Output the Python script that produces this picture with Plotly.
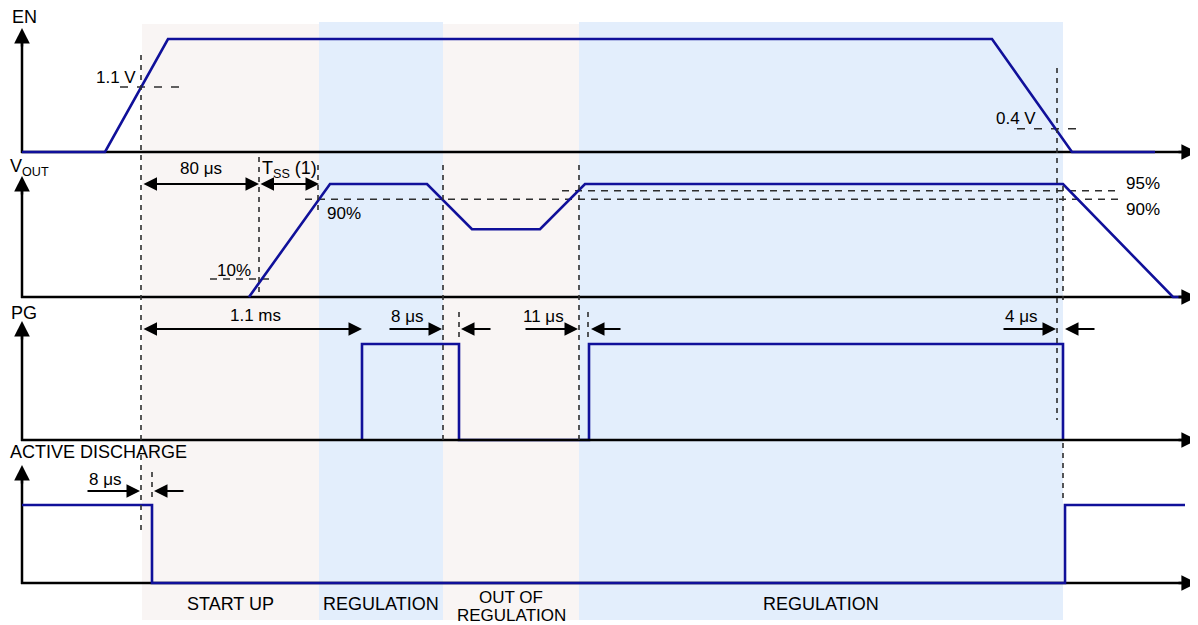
import plotly.graph_objects as go

# page body has an 8px margin: the figure is sized so that it fills the window
OFF = 8
W, H = 1198 - OFF, 625 - OFF

# ---------------- data (common time axis, arbitrary units) ----------------
en_t = [22, 105, 168, 992, 1072, 1155]
en_v = [0, 0, 1, 1, 0, 0]
vout_t = [249, 330, 427, 472, 540, 585, 1063, 1173, 1187]
vout_v = [0, 1, 1, 0.6, 0.6, 1, 1, 0, 0]
pg_t = [362, 362, 459, 459, 589, 589, 1063, 1063]
pg_v = [0, 1, 1, 0, 0, 1, 1, 0]
ad_t = [22, 152, 152, 1065, 1065, 1185]
ad_v = [1, 1, 0, 0, 1, 1]

phase_names = ["START UP", "REGULATION", "OUT OF|REGULATION", "REGULATION"]
phase_start = [142, 319, 443, 579]
phase_end = [319, 443, 579, 1063]
phase_is_reg = [False, True, False, True]

# threshold levels (fraction of full level) and their spans on the time axis
en_thr_text = ["1.1 V", "0.4 V"]
en_thr_level = [0.575, 0.205]
en_thr_t0 = [120, 1017]
en_thr_t1 = [185, 1082]

vout_thr_text = ["10%", "90%", "95%"]
vout_thr_level = [0.16, 0.865, 0.94]
vout_thr_t0 = [210, 305, 562]
vout_thr_t1 = [275, 1122, 1117]

# timing intervals
dim_text = ["80 μs", "T<sub>SS</sub> (1)", "1.1 ms"]
dim_t0 = [142, 259, 142]
dim_t1 = [259, 319, 362]
dim_panel = ["VOUT", "VOUT", "PG"]

delay_text = ["8 μs", "11 μs", "4 μs", "8 μs"]
delay_t0 = [443, 579, 1057, 141]
delay_t1 = [459, 589, 1063, 152]
delay_panel = ["PG", "PG", "PG", "AD"]

signal_names = ["EN", "V<sub>OUT</sub>", "PG", "ACTIVE DISCHARGE"]

# ---------------- layout constants (window pixels) ----------------
BLUE = "#10109a"
PINK_BG = "#f9f5f4"
BLUE_BG = "#e3eefc"
GUIDE = "#2e2e2e"
FONT = "Liberation Sans, Arial, sans-serif"
FS = 18

panels = {
    "EN":   dict(band=(OFF, 160), base=152, high=39, tip=28),
    "VOUT": dict(band=(160, 300), base=297, high=184, tip=176),
    "PG":   dict(band=(300, 444), base=440, high=344, tip=321),
    "AD":   dict(band=(444, 625), base=583, high=505, tip=465),
}


def p(ypx):
    return 1 - (ypx - OFF) / H


fig = go.Figure()

layout_axes = {}
for i, (k, c) in enumerate(panels.items()):
    a, b = c["band"]
    span = c["base"] - c["high"]
    name = "yaxis" if i == 0 else f"yaxis{i+1}"
    layout_axes[name] = dict(
        domain=[max(0, p(b)), min(1, p(a))],
        range=[(c["base"] - b) / span, (c["base"] - a) / span],
        visible=False, fixedrange=True, anchor="x",
    )

shapes = []
annotations = []


def text(x, y, s, size=FS, anchor="center"):
    annotations.append(dict(x=x, y=p(y), xref="x", yref="paper", text=s, showarrow=False,
                            font=dict(size=size, family=FONT, color="black"),
                            xanchor=anchor, yanchor="middle"))


# phase backgrounds
for s, e, reg in zip(phase_start, phase_end, phase_is_reg):
    shapes.append(dict(type="rect", xref="x", yref="paper", x0=s, x1=e,
                       y0=p(620), y1=p(22 if reg else 24),
                       fillcolor=BLUE_BG if reg else PINK_BG,
                       line=dict(width=0), layer="below"))

# phase labels
for s, e, n in zip(phase_start, phase_end, phase_names):
    parts = n.split("|")
    if len(parts) == 1:
        text((s + e) / 2, 604, n)
    else:
        text((s + e) / 2, 597, parts[0], FS - 1)
        text((s + e) / 2, 615, parts[1], FS - 1)

# signal axes (lines + arrowheads)
for k, c in panels.items():
    layer = "above" if k == "PG" else "below"
    shapes.append(dict(type="line", xref="x", yref="paper", x0=22, x1=22,
                       y0=p(c["base"] + 1), y1=p(c["tip"] + 6),
                       line=dict(color="black", width=2.5), layer=layer))
    shapes.append(dict(type="line", xref="x", yref="paper", x0=21, x1=1188,
                       y0=p(c["base"]), y1=p(c["base"]),
                       line=dict(color="black", width=2.5), layer=layer))
    annotations.append(dict(x=22, y=p(c["tip"]), xref="x", yref="paper", text="",
                            showarrow=True, ax=0, ay=20, axref="pixel", ayref="pixel",
                            arrowhead=2, arrowsize=1.3, arrowwidth=2.4, arrowcolor="black"))
    annotations.append(dict(x=1197, y=p(c["base"]), xref="x", yref="paper", text="",
                            showarrow=True, ax=-20, ay=0, axref="pixel", ayref="pixel",
                            arrowhead=2, arrowsize=1.3, arrowwidth=2.4, arrowcolor="black"))

# signal names
name_pos = [(10, 17), (8, 167), (9, 313), (8, 452)]
for n, (x, y) in zip(signal_names, name_pos):
    text(x, y, n, FS, "left")

# vertical guide lines (time, top px, bottom px)
guides = [(141, 55, 530), (259, 157, 293), (318, 165, 210), (443, 165, 440),
          (579, 165, 440), (459, 312, 342), (588, 312, 342), (1057, 68, 420),
          (1063, 186, 300), (1063, 443, 503), (152, 472, 500)]
for t, y0, y1 in guides:
    shapes.append(dict(type="line", xref="x", yref="paper", x0=t, x1=t, y0=p(y0), y1=p(y1),
                       line=dict(color=GUIDE, width=1.6, dash="5px,5px"), layer="above"))

# threshold dashed lines as traces
for lvl, t0, t1 in zip(en_thr_level, en_thr_t0, en_thr_t1):
    fig.add_trace(go.Scatter(x=[t0, t1], y=[lvl, lvl], mode="lines", yaxis="y",
                             line=dict(color=GUIDE, width=1.5, dash="8px,9px"),
                             hoverinfo="skip", showlegend=False))
for lvl, t0, t1 in zip(vout_thr_level, vout_thr_t0, vout_thr_t1):
    fig.add_trace(go.Scatter(x=[t0, t1], y=[lvl, lvl], mode="lines", yaxis="y2",
                             line=dict(color=GUIDE, width=1.5, dash="7px,6px"),
                             hoverinfo="skip", showlegend=False))

# waveforms
for t, v, ax in [(pg_t, pg_v, "y3"), (ad_t, ad_v, "y4"), (en_t, en_v, "y"), (vout_t, vout_v, "y2")]:
    fig.add_trace(go.Scatter(x=t, y=v, mode="lines", yaxis=ax,
                             line=dict(color=BLUE, width=2.6), hoverinfo="skip", showlegend=False))

# threshold labels
thr_labels = [("1.1 V", 116, 77), ("0.4 V", 1016, 118), ("10%", 234, 271),
              ("90%", 344, 213), ("95%", 1143, 183), ("90%", 1143, 209)]
for txt, x, y in thr_labels:
    text(x, y, txt, FS - 1)

arrow_y = {"VOUT": 184, "PG": 329, "AD": 491}
label_y = {"VOUT": 168, "PG": 315, "AD": 478}

AH = dict(arrowsize=1.5, arrowwidth=1.8, arrowcolor="black")

# double-headed dimension arrows
for txt, t0, t1, pn in zip(dim_text, dim_t0, dim_t1, dim_panel):
    yy = p(arrow_y[pn])
    annotations.append(dict(x=t1, y=yy, ax=t0, ay=0, xref="x", yref="paper",
                            axref="x", ayref="pixel", text="", showarrow=True,
                            arrowhead=2, startarrowhead=2, arrowside="end+start",
                            startarrowsize=1.5, **AH))
    if txt.startswith("T"):
        text(t0 + 1, label_y[pn] + 1, txt, FS, "left")
    else:
        text((t0 + t1) / 2 + (3 if pn == "PG" else 0), label_y[pn], txt, FS - 1)

# delay arrows (pointing inward)
for txt, t0, t1, pn in zip(delay_text, delay_t0, delay_t1, delay_panel):
    yy = p(arrow_y[pn])
    annotations.append(dict(x=t0 - 1, y=yy, ax=t0 - 55, ay=0, xref="x", yref="paper",
                            axref="x", ayref="pixel", text="", showarrow=True,
                            arrowhead=2, **AH))
    annotations.append(dict(x=t1 + 2, y=yy, ax=t1 + 33, ay=0, xref="x", yref="paper",
                            axref="x", ayref="pixel", text="", showarrow=True,
                            arrowhead=2, **AH))
    text(t0 - 36, label_y[pn] + 1, txt, FS - 1)

fig.update_layout(
    width=W, height=H,
    margin=dict(l=0, r=0, t=0, b=0),
    paper_bgcolor="white", plot_bgcolor="rgba(0,0,0,0)",
    xaxis=dict(range=[OFF, 1198], visible=False, fixedrange=True, anchor="y"),
    shapes=shapes, annotations=annotations, showlegend=False,
    **layout_axes,
)

fig.write_html("out.html")
